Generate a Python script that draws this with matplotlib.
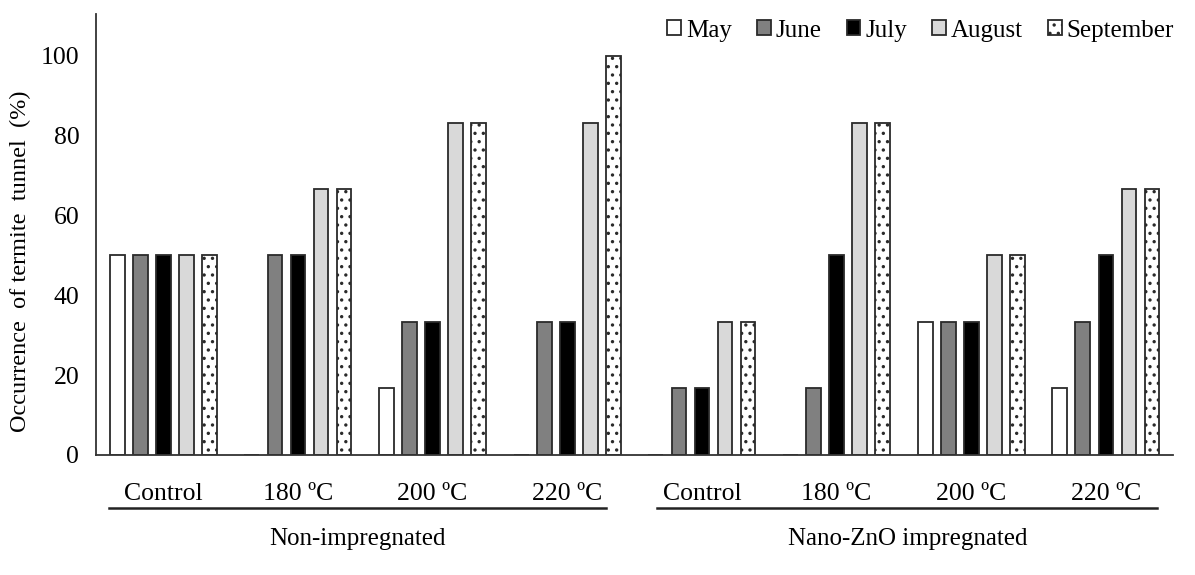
import numpy as np
import matplotlib
matplotlib.use("Agg")
import matplotlib.pyplot as plt

plt.rcParams['font.family'] = ['Liberation Serif', 'DejaVu Serif']
plt.rcParams['hatch.color'] = '#555555'
plt.rcParams['hatch.linewidth'] = 1.2

groups = ['Control', '180 ºC', '200 ºC', '220 ºC',
          'Control', '180 ºC', '200 ºC', '220 ºC']
months = ['May', 'June', 'July', 'August', 'September']

may = [50, 0, 16.7, 0, 0, 0, 33.3, 16.7]
june = [50, 50, 33.3, 33.3, 16.7, 16.7, 33.3, 33.3]
july = [50, 50, 33.3, 33.3, 16.7, 50, 33.3, 50]
august = [50, 66.7, 83.3, 83.3, 33.3, 83.3, 50, 66.7]
september = [50, 66.7, 83.3, 100, 33.3, 83.3, 50, 66.7]

treatments = ['Non-impregnated', 'Nano-ZnO impregnated']

series = [may, june, july, august, september]
colors = ['white', '#808080', 'black', '#d9d9d9', 'white']
hatches = [None, None, None, None, '..']

fig = plt.figure(figsize=(11.95, 5.75), dpi=100)
ax = fig.add_axes([0.0803, 0.2087, 0.9015, 0.767])

x = np.arange(len(groups))
step = 0.171
width = 0.11
for i, (vals, c, h, lab) in enumerate(zip(series, colors, hatches, months)):
    ax.bar(x + (i - 2) * step, vals, width, color=c, edgecolor='#2a2a2a',
           linewidth=1.3, hatch=h, label=lab)

ax.set_xlim(-0.5, 7.5)
ax.set_ylim(0, 110.5)
ax.set_yticks([0, 20, 40, 60, 80, 100])
ax.set_xticks(x)
ax.set_xticklabels(groups)
ax.tick_params(axis='both', length=0, labelsize=18.5, colors='black')
ax.tick_params(axis='x', pad=20)
ax.tick_params(axis='y', pad=12)
for s in ['top', 'right']:
    ax.spines[s].set_visible(False)
for s in ['left', 'bottom']:
    ax.spines[s].set_color('#333333')
    ax.spines[s].set_linewidth(1.3)

ax.set_ylabel('Occurrence  of termite  tunnel  (%)', fontsize=17.5)
ax.yaxis.set_label_coords(-0.06, 0.44)

# treatment brackets below the group labels
spans = [(-0.405, 3.29), (3.67, 7.38)]
for (a, b), name in zip(spans, treatments):
    ax.plot([a, b], [-0.12, -0.12], color='#222222', lw=1.8, clip_on=False,
            transform=ax.get_xaxis_transform())
    ax.text((a + b) / 2, -0.19, name, ha='center', va='center', fontsize=18,
            transform=ax.get_xaxis_transform())

ax.legend(loc='upper right', bbox_to_anchor=(1.01, 1.01), ncol=5, frameon=False,
          fontsize=18, handlelength=0.55, handleheight=0.55, handletextpad=0.2,
          columnspacing=1.0, borderaxespad=0)

fig.savefig('out.png', dpi=100)
